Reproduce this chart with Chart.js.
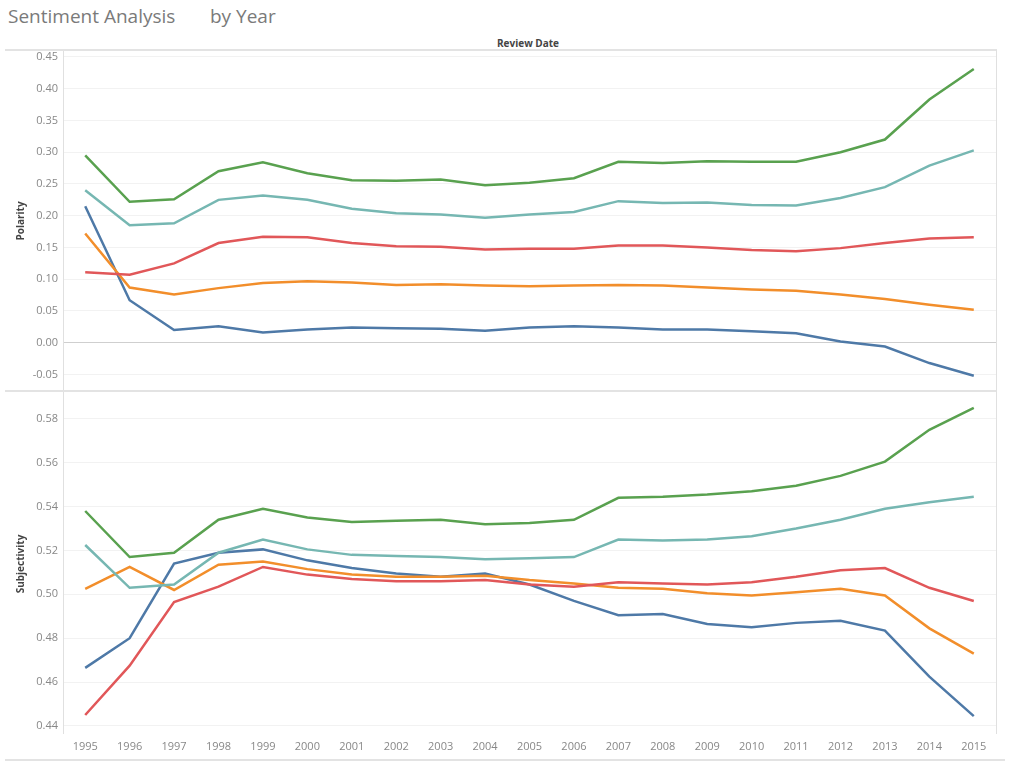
<!DOCTYPE html>
<html>
<head>
<meta charset="utf-8">
<script src="https://cdn.jsdelivr.net/npm/chart.js@4/dist/chart.umd.min.js"></script>
<style>
  body { margin: 0; background: #fff; font-family: "Open Sans", "Noto Sans", sans-serif; }
  #wrap { position: relative; width: 1024px; height: 763px; overflow: hidden; }
  .title { position: absolute; top: 3px; font-size: 19px; color: #7a7a7a; white-space: pre; }
  .header { position: absolute; left: 497px; top: 36px; font-size: 10px; font-weight: bold; color: #444; }
  .hline { position: absolute; height: 0; border-top: 2px solid #e3e3e3; }
  .vline { position: absolute; width: 0; border-left: 1px solid #e0e0e0; }
  .ytitle { position: absolute; font-size: 10px; font-weight: bold; color: #444; transform: rotate(-90deg); transform-origin: center; white-space: nowrap; }
  canvas { position: absolute; }
</style>
</head>
<body>
<div id="wrap">
  <div class="title" style="left:8px">Sentiment Analysis</div>
  <div class="title" style="left:210px">by Year</div>
  <div class="header">Review Date</div>
  <canvas id="polarity" style="left:0;top:50px;width:1000px;height:341px"></canvas>
  <canvas id="subjectivity" style="left:0;top:391px;width:1000px;height:372px"></canvas>
  <div class="hline" style="left:5px;top:49px;width:992px"></div>
  <div class="hline" style="left:5px;top:390px;width:992px"></div>
  <div class="hline" style="left:5px;top:759px;width:1000px"></div>
  <div class="vline" style="left:996px;top:50px;height:684px"></div>
  <div class="ytitle" style="left:-10px;top:214px;width:60px;text-align:center">Polarity</div>
  <div class="ytitle" style="left:-15px;top:557px;width:70px;text-align:center">Subjectivity</div>
</div>
<script>
const years = ['1995','1996','1997','1998','1999','2000','2001','2002','2003','2004','2005',
  '2006','2007','2008','2009','2010','2011','2012','2013','2014','2015'];

const seriesColors = ['#59a14f', '#76b7b2', '#e15759', '#f28e2b', '#4e79a7'];

// Polarity by year
const polarityGreen  = [0.295,0.222,0.226,0.270,0.284,0.267,0.256,0.255,0.257,0.248,0.252,0.259,0.285,0.283,0.286,0.285,0.285,0.300,0.320,0.383,0.431];
const polarityTeal   = [0.240,0.185,0.188,0.225,0.232,0.225,0.211,0.204,0.202,0.197,0.202,0.206,0.223,0.220,0.221,0.217,0.216,0.228,0.245,0.279,0.303];
const polarityRed    = [0.111,0.107,0.125,0.157,0.167,0.166,0.157,0.152,0.151,0.147,0.148,0.148,0.153,0.153,0.150,0.146,0.144,0.149,0.157,0.164,0.166];
const polarityOrange = [0.172,0.087,0.076,0.086,0.094,0.097,0.095,0.091,0.092,0.090,0.089,0.090,0.091,0.090,0.087,0.084,0.082,0.076,0.069,0.060,0.052];
const polarityBlue   = [0.215,0.067,0.020,0.026,0.016,0.021,0.024,0.023,0.022,0.019,0.024,0.026,0.024,0.021,0.021,0.018,0.015,0.002,-0.006,-0.032,-0.052];

// Subjectivity by year
const subjGreen  = [0.538,0.517,0.519,0.534,0.539,0.535,0.533,0.5335,0.534,0.532,0.5325,0.534,0.544,0.5445,0.5455,0.547,0.5495,0.554,0.5605,0.575,0.585];
const subjTeal   = [0.5225,0.503,0.5045,0.519,0.525,0.5205,0.518,0.5175,0.517,0.516,0.5165,0.517,0.525,0.5245,0.525,0.5265,0.530,0.534,0.539,0.542,0.5445];
const subjRed    = [0.445,0.4675,0.4965,0.5035,0.5125,0.509,0.507,0.506,0.506,0.5065,0.5045,0.5035,0.5055,0.505,0.5045,0.5055,0.508,0.511,0.512,0.503,0.497];
const subjOrange = [0.5025,0.5125,0.502,0.5135,0.515,0.5115,0.509,0.508,0.508,0.5085,0.5065,0.505,0.503,0.5025,0.5005,0.4995,0.501,0.5025,0.4995,0.4845,0.473];
const subjBlue   = [0.4665,0.480,0.514,0.519,0.5205,0.5155,0.512,0.5095,0.508,0.5095,0.5045,0.497,0.4905,0.491,0.4865,0.485,0.487,0.488,0.4835,0.4625,0.4445];

const polarityTicks = [-0.05,0.00,0.05,0.10,0.15,0.20,0.25,0.30,0.35,0.40,0.45];
const subjTicks = [0.44,0.46,0.48,0.50,0.52,0.54,0.56,0.58];

Chart.defaults.font.family = '"Open Sans", "Noto Sans", sans-serif';
Chart.defaults.animation = false;

function makeDatasets(arrays) {
  return arrays.map((d, i) => ({
    data: d,
    borderColor: seriesColors[i],
    borderWidth: 2.5,
    pointRadius: 0,
    tension: 0,
    fill: false
  }));
}

function makeChart(id, arrays, min, max, tickVals, showX) {
  return new Chart(document.getElementById(id), {
    type: 'line',
    data: { labels: years, datasets: makeDatasets(arrays) },
    options: {
      responsive: false,
      maintainAspectRatio: false,
      layout: { padding: { left: 0, right: 4, top: 0, bottom: 0 } },
      plugins: { legend: { display: false }, tooltip: { enabled: false } },
      scales: {
        x: {
          display: showX,
          offset: true,
          afterFit(scale) {
            scale.height = showX ? 30 : 0;
            scale.paddingLeft = 0; scale.paddingRight = 0;
          },
          grid: { display: false, drawTicks: false },
          border: { display: false },
          ticks: { color: '#888', font: { size: 11 }, padding: 7, maxRotation: 0, autoSkip: false }
        },
        y: {
          min: min,
          max: max,
          afterFit(scale) {
            scale.width = 63;
            scale.paddingTop = 0; scale.paddingBottom = 0;
          },
          afterBuildTicks(scale) { scale.ticks = tickVals.map(v => ({ value: v })); },
          grid: {
            drawTicks: false,
            color: ctx => (ctx.tick && ctx.tick.value === 0 && id === 'polarity') ? '#cfcfcf' : '#f2f2f2',
            lineWidth: 1
          },
          border: { display: true, color: '#e0e0e0', width: 1 },
          ticks: {
            color: '#888',
            font: { size: 11 },
            padding: 5,
            callback: v => v.toFixed(2)
          }
        }
      }
    }
  });
}

function sizeCanvas(id, w, h) {
  const c = document.getElementById(id);
  c.width = w; c.height = h;
}
sizeCanvas('polarity', 1000, 341);
sizeCanvas('subjectivity', 1000, 372);

makeChart('polarity', [polarityGreen, polarityTeal, polarityRed, polarityOrange, polarityBlue],
  -0.076, 0.461, polarityTicks, false);
makeChart('subjectivity', [subjGreen, subjTeal, subjRed, subjOrange, subjBlue],
  0.4368, 0.5927, subjTicks, true);
</script>
</body>
</html>
